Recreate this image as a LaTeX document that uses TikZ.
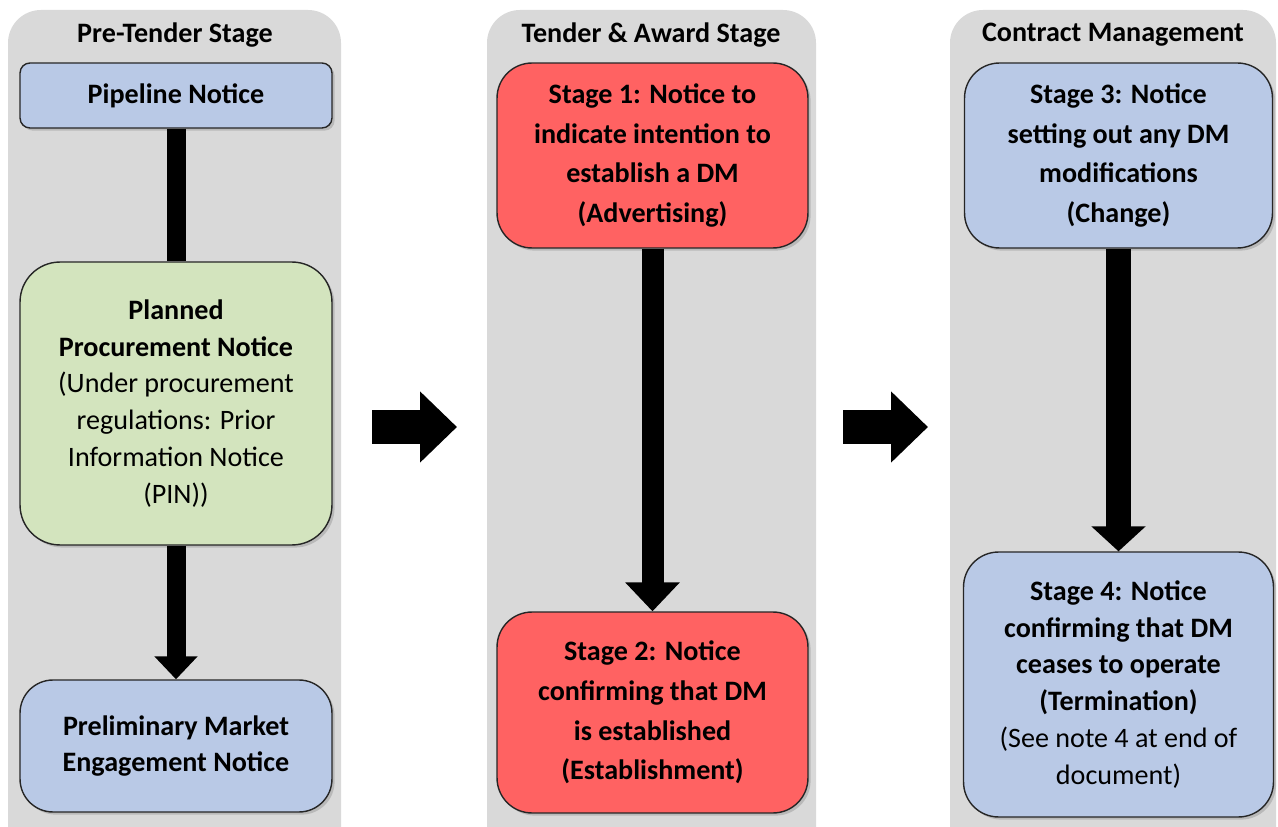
\documentclass[tikz,border=0pt]{standalone}
\usepackage{fontspec}
\setmainfont{Carlito}
\usetikzlibrary{arrows.meta,shadows}
\definecolor{panelgray}{RGB}{217,217,217}
\definecolor{noteblue}{RGB}{185,201,230}
\definecolor{notegreen}{RGB}{211,228,190}
\definecolor{notered}{RGB}{255,98,98}
\tikzstyle{stagehead}=[font=\fontsize{16}{21}\selectfont\bfseries, inner sep=0pt]
\tikzstyle{notice}=[draw=black!85, line width=0.8pt, align=center, inner sep=2pt, font=\fontsize{16}{21}\selectfont\bfseries, drop shadow={shadow xshift=1.5pt, shadow yshift=-1.5pt, opacity=0.35}]
\tikzstyle{stagenotice}=[notice, font=\fontsize{16}{22.5}\selectfont\bfseries, rounded corners=0.7cm]
\tikzstyle{link}=[line width=0.4cm]
\tikzstyle{blockarrow}=[line width=0.7cm, -{Triangle[width=1.38cm, length=0.74cm]}]

\begin{document}
\begin{tikzpicture}[x=0.02cm, y=-0.02cm]
\clip (0, 0) rectangle (1278, 827);
\fill[panelgray, rounded corners=0.66cm] (8, 10) rectangle (341, 880);
\fill[panelgray, rounded corners=0.66cm] (487, 10) rectangle (816, 880);
\fill[panelgray, rounded corners=0.66cm] (950, 10) rectangle (1276, 880);
\node[stagehead] at (175, 35) (headPre) {Pre-Tender Stage};
\node[stagehead] at (651, 35) (headTender) {Tender \& Award Stage};
\node[stagehead] at (1113, 35) (headContract) {Contract Management};
\node[notice, fill=noteblue, rounded corners=0.2cm, minimum width=6.24cm, minimum height=1.3cm] at (176, 95.5) (pipe) {Pipeline Notice};
\node[notice, fill=notegreen, rounded corners=0.8cm, minimum width=6.24cm, minimum height=5.66cm] at (176, 403.5) (plan) {Planned\\Procurement Notice\\\mdseries (Under procurement\\\mdseries regulations: Prior\\\mdseries Information Notice\\\mdseries (PIN))};
\node[notice, fill=noteblue, rounded corners=0.66cm, minimum width=6.24cm, minimum height=2.64cm] at (176, 746) (prelim) {Preliminary Market\\Engagement Notice};
\node[stagenotice, fill=notered, minimum width=6.22cm, minimum height=3.7cm] at (652.5, 155.5) (stageA) {Stage 1: Notice to\\indicate intention to\\establish a DM\\(Advertising)};
\node[stagenotice, fill=notered, minimum width=6.22cm, minimum height=4.02cm] at (652.5, 712.5) (stageB) {Stage 2: Notice\\confirming that DM\\is established\\(Establishment)};
\node[stagenotice, fill=noteblue, minimum width=6.16cm, minimum height=3.7cm] at (1118.5, 155.5) (stageC) {Stage 3: Notice\\setting out any DM\\modifications\\(Change)};
\node[notice, fill=noteblue, rounded corners=0.7cm, minimum width=6.2cm, minimum height=5.3cm] at (1118.5, 684.5) (stageD) {Stage 4: Notice\\confirming that DM\\ceases to operate\\(Termination)\\\mdseries (See note 4 at end of\\\mdseries document)};
\coordinate (gapA) at (372, 427);
\coordinate (gapB) at (457, 427);
\coordinate (gapC) at (843, 427);
\coordinate (gapD) at (928, 427);
\draw[link, line width=0.38cm] (pipe) -- (plan);
\draw[link, line width=0.38cm, -{Triangle[width=0.84cm, length=0.46cm]}] (plan) -- (prelim);
\draw[link, line width=0.44cm, -{Triangle[width=1.06cm, length=0.58cm]}] (stageA) -- (stageB);
\draw[link, line width=0.5cm, -{Triangle[width=1.06cm, length=0.5cm]}] (stageC) -- (stageD);
\draw[blockarrow] (gapA) -- (gapB);
\draw[blockarrow] (gapC) -- (gapD);
\end{tikzpicture}
\end{document}
